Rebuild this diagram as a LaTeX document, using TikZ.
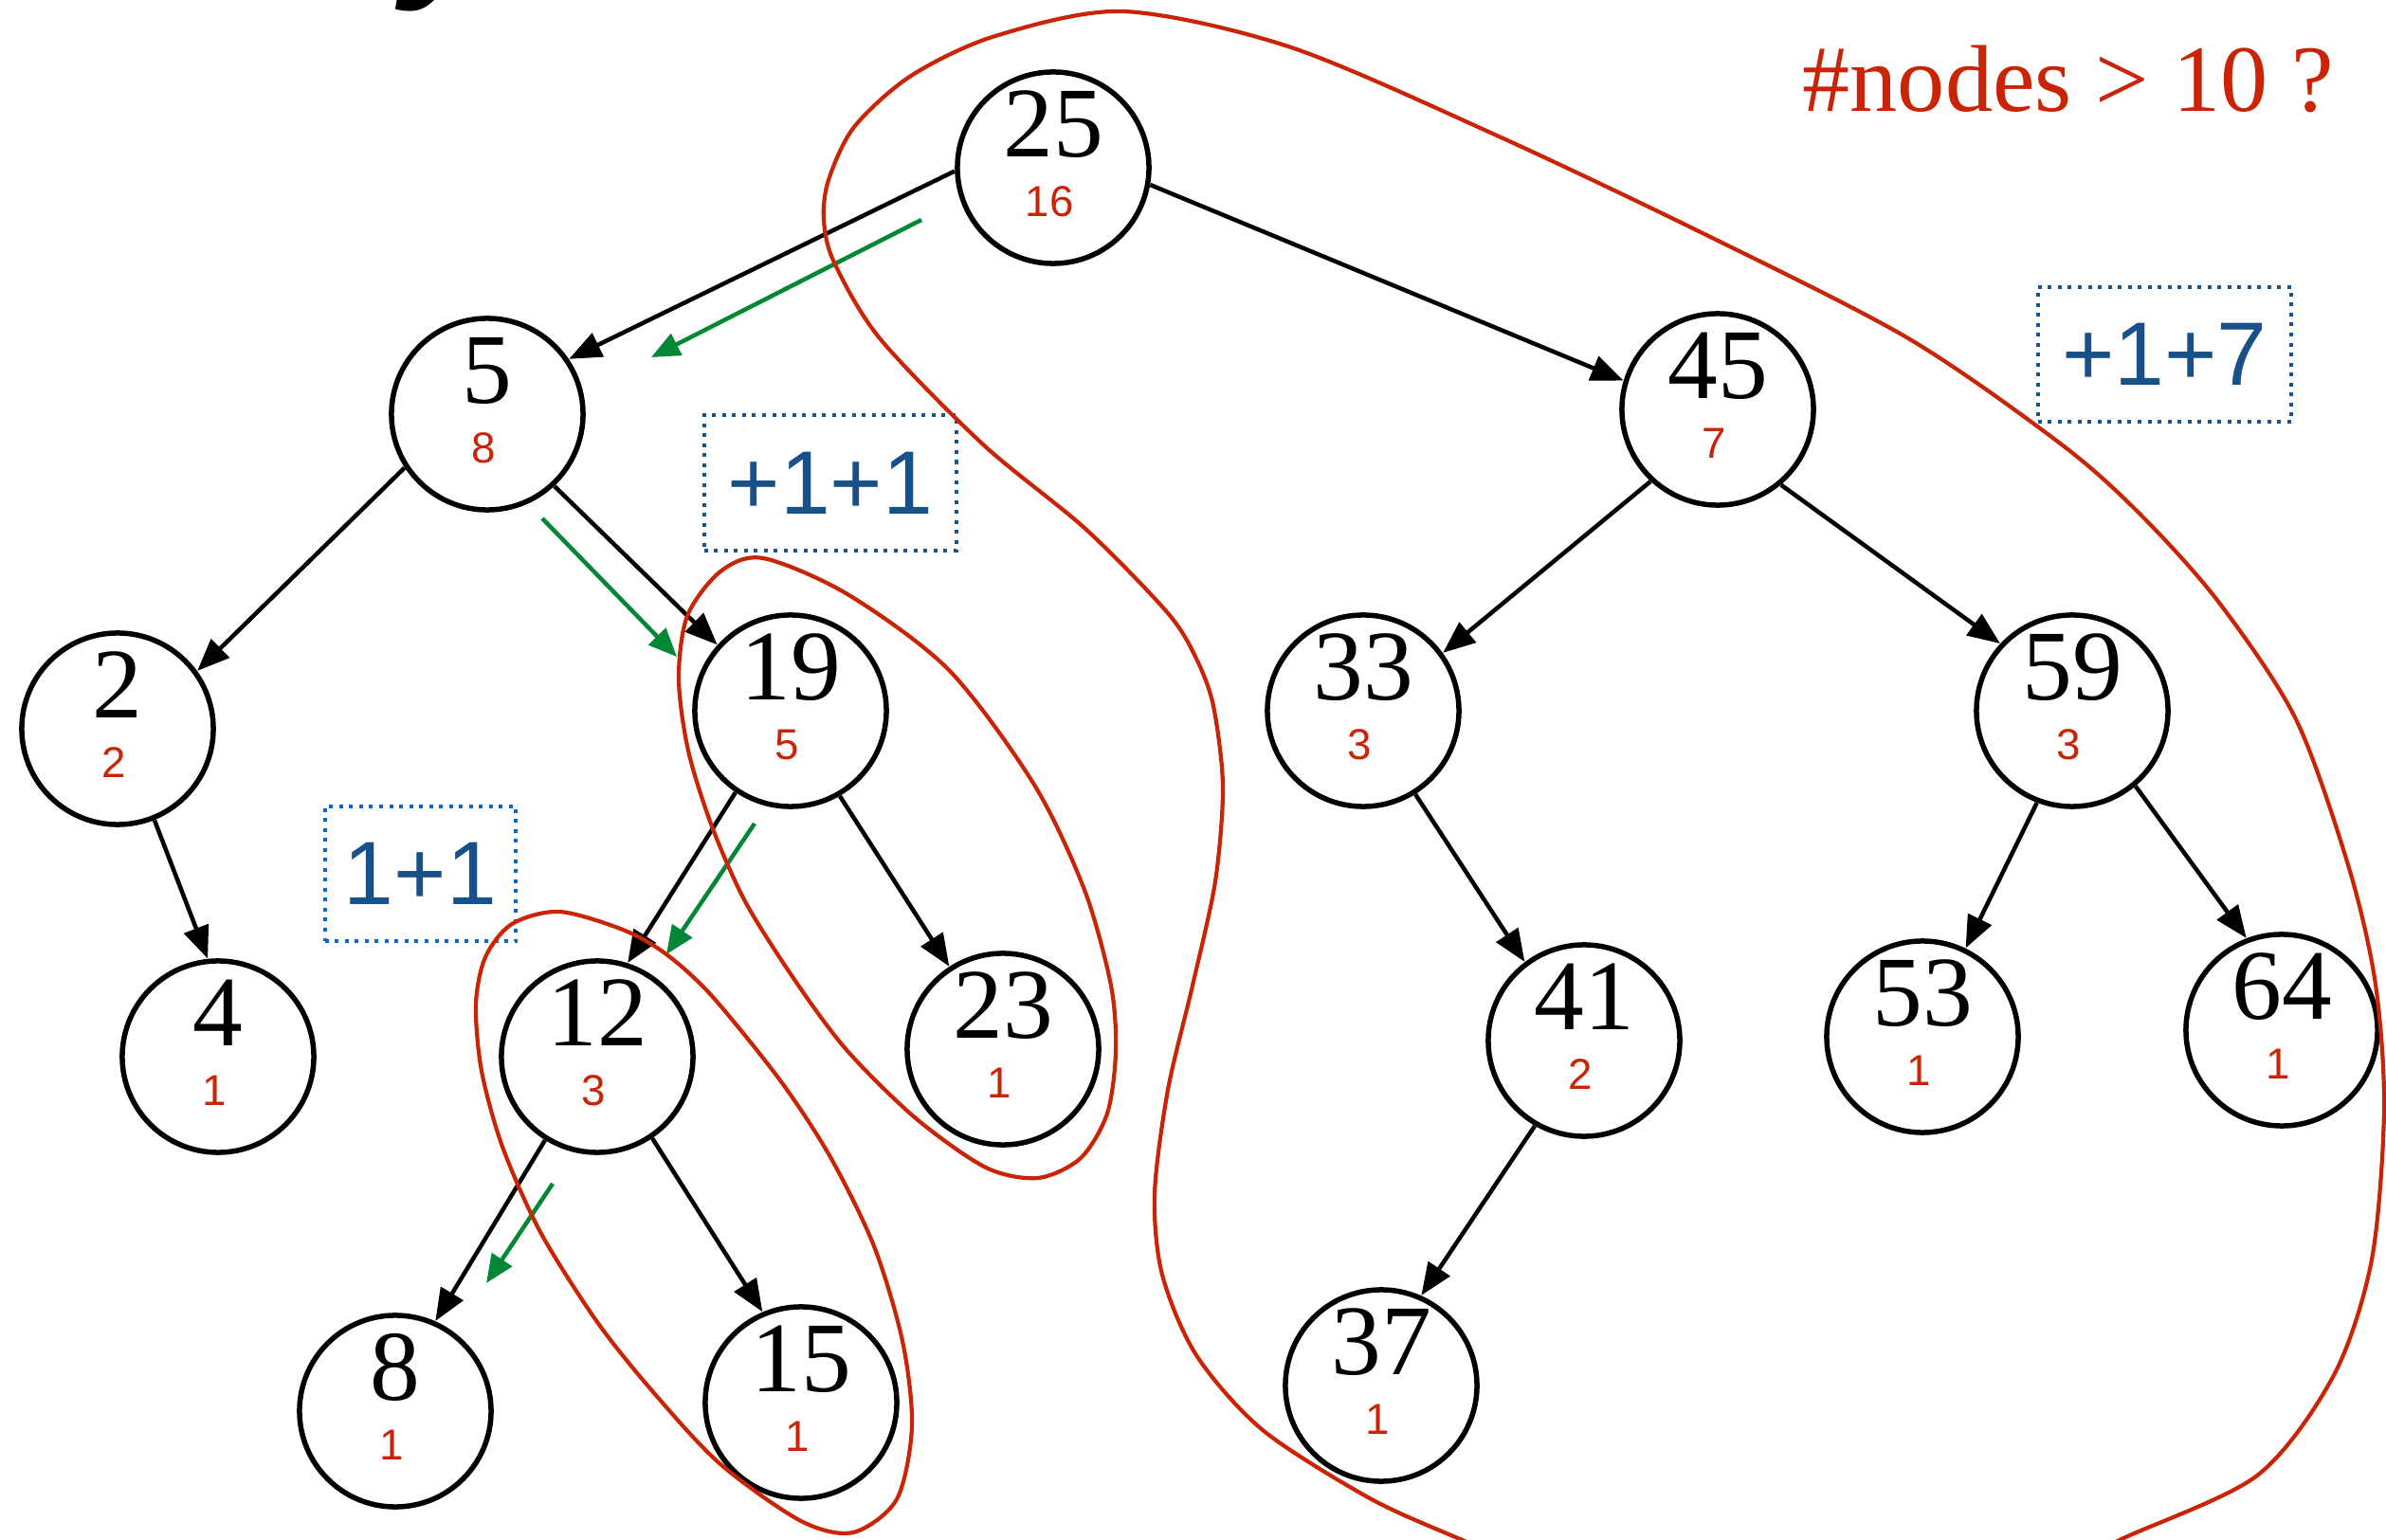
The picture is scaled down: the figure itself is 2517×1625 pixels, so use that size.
\documentclass[tikz,border=0pt]{standalone}
\usepackage{fontspec}
\setmainfont{Liberation Serif}
\newfontfamily\sansf{Liberation Sans}
\usetikzlibrary{arrows.meta}
\definecolor{kred}{RGB}{201,36,6}
\definecolor{kgreen}{RGB}{4,135,52}
\definecolor{kblue}{RGB}{24,80,138}
\definecolor{kdot}{RGB}{26,84,142}
\definecolor{kdotb}{RGB}{12,104,200}
\newcommand\treenode[5]{%
  \node[tnode] (#1) at (#2,#3) {};
  \node[valtext] (#1v) at (#2,#3-46) {#4};
  \node[cnttext] (#1c) at (#2-4,#3+36) {#5};
}
\begin{document}
\begin{tikzpicture}[x=0.01cm,y=-0.01cm,
  tnode/.style={circle,draw,line width=0.055cm,minimum size=2.02cm,inner sep=0pt,outer sep=0.03cm},
  valtext/.style={font=\fontsize{30}{31}\selectfont,inner sep=0pt},
  cnttext/.style={font=\sansf\fontsize{13}{14}\selectfont,text=kred,inner sep=0pt},
  treeedge/.style={line width=0.045cm,-{Triangle[length=0.34cm,width=0.27cm]}},
  garrow/.style={kgreen,line width=0.045cm,-{Triangle[length=0.3cm,width=0.25cm]}},
  redloop/.style={kred,line width=0.042cm},
  sumbox/.style={draw=kdot,line width=0.04cm,dash pattern=on 0.04cm off 0.065cm,font=\sansf\fontsize{27}{28}\selectfont,text=kblue,inner sep=0pt,minimum height=1.42cm}
]
\useasboundingbox (0,0) rectangle (2517,1625);
\fill[white] (0,0) rectangle (2517,1625);

% cut-off title fragment
\node[font=\bfseries\itshape\fontsize{60}{60}\selectfont,anchor=base west,inner sep=0pt] (ttl) at (438,-33) {y};

% question
\node[font=\fontsize{28.5}{30}\selectfont,text=kred,anchor=base west,inner sep=0pt] (q) at (1901,118) {\#nodes > 10 ?};

% tree nodes
\treenode{n25}{1111}{177}{25}{16}
\treenode{n5}{514}{437}{5}{8}
\treenode{n2}{124}{769}{2}{2}
\treenode{n4}{230}{1115}{4}{1}
\treenode{n19}{834}{750}{19}{5}
\treenode{n12}{630}{1115}{12}{3}
\treenode{n23}{1058}{1107}{23}{1}
\treenode{n8}{417}{1489}{8}{1}
\treenode{n15}{845}{1480}{15}{1}
\treenode{n45}{1812}{432}{45}{7}
\treenode{n33}{1438}{750}{33}{3}
\treenode{n59}{2186}{750}{59}{3}
\treenode{n41}{1671}{1098}{41}{2}
\treenode{n53}{2028}{1094}{53}{1}
\treenode{n64}{2407}{1087}{64}{1}
\treenode{n37}{1457}{1462}{37}{1}

% tree edges
\draw[treeedge] (n25.182) -- (n5.34);
\draw[treeedge] (n25.350) -- (n45.163);
\draw[treeedge] (n5.213) -- (n2.36);
\draw[treeedge] (n5.313.5) -- (n19.138.7);
\draw[treeedge] (n2.292) -- (n4.96.6);
\draw[treeedge] (n19.236) -- (n12.72);
\draw[treeedge] (n19.300.4) -- (n23.123.6);
\draw[treeedge] (n12.238.8) -- (n8.66.6);
\draw[treeedge] (n12.304.3) -- (n15.113.6);
\draw[treeedge] (n45.227.7) -- (n33.36.6);
\draw[treeedge] (n45.310.3) -- (n59.137.6);
\draw[treeedge] (n33.302.3) -- (n41.127);
\draw[treeedge] (n41.240.8) -- (n37.66.7);
\draw[treeedge] (n59.249.5) -- (n53.64.9);
\draw[treeedge] (n59.310.4) -- (n64.111.8);

% green search arrows
\coordinate (g1s) at (972,232); \coordinate (g1e) at (687,377);
\coordinate (g2s) at (572,547); \coordinate (g2e) at (714,693);
\coordinate (g3s) at (796,869); \coordinate (g3e) at (703,1007);
\coordinate (g4s) at (583,1249); \coordinate (g4e) at (513,1354);
\draw[garrow] (g1s) -- (g1e);
\draw[garrow] (g2s) -- (g2e);
\draw[garrow] (g3s) -- (g3e);
\draw[garrow] (g4s) -- (g4e);

% sum boxes
\node[sumbox,minimum width=2.66cm] (b1) at (876,509.5) {+1+1};
\node[sumbox,minimum width=2.67cm] (b2) at (2283.5,374) {+1+7};
\node[sumbox,draw=kdotb,minimum width=2.01cm] (b3) at (443.5,922) {1+1};

% red enclosing curves
\draw[redloop] plot[smooth cycle] coordinates {
 (590,962) (657,981) (703,1007) (751,1051) (823,1140) (876,1221) (922,1315)
 (952,1415) (962,1505) (946,1582) (900,1617) (845,1605) (760,1545) (690,1470)
 (630,1395) (570,1300) (530,1210) (508,1130) (502,1060) (512,1010) (540,975)};
\draw[redloop] plot[smooth cycle] coordinates {
 (805,589) (894,627) (1001,707) (1091,828) (1144,939) (1172,1040) (1177,1110)
 (1168,1175) (1140,1222) (1095,1243) (1040,1232) (966,1180) (894,1109)
 (841,1038) (787,953) (751,872) (726,792) (716,716) (725,650) (760,603)};
\draw[redloop] plot[smooth] coordinates {
 (1650,1670) (1540,1624) (1445,1581) (1332,1509) (1262,1430) (1226,1345) (1218,1260)
 (1232,1150) (1258,1040) (1282,930) (1290,830) (1280,745) (1262,695)
 (1232,647) (1145,558) (1037,469) (928,357) (880,277) (869,232) (874,190)
 (901,134) (961,80) (1050,38) (1185,12) (1362,50) (1579,143) (1796,246)
 (2013,357) (2176,470) (2260,545) (2341,636) (2422,759) (2478,916)
 (2506,1039) (2515,1171) (2502,1329) (2462,1451) (2381,1557) (2236,1625)
 (2150,1670)};
\end{tikzpicture}
\end{document}
